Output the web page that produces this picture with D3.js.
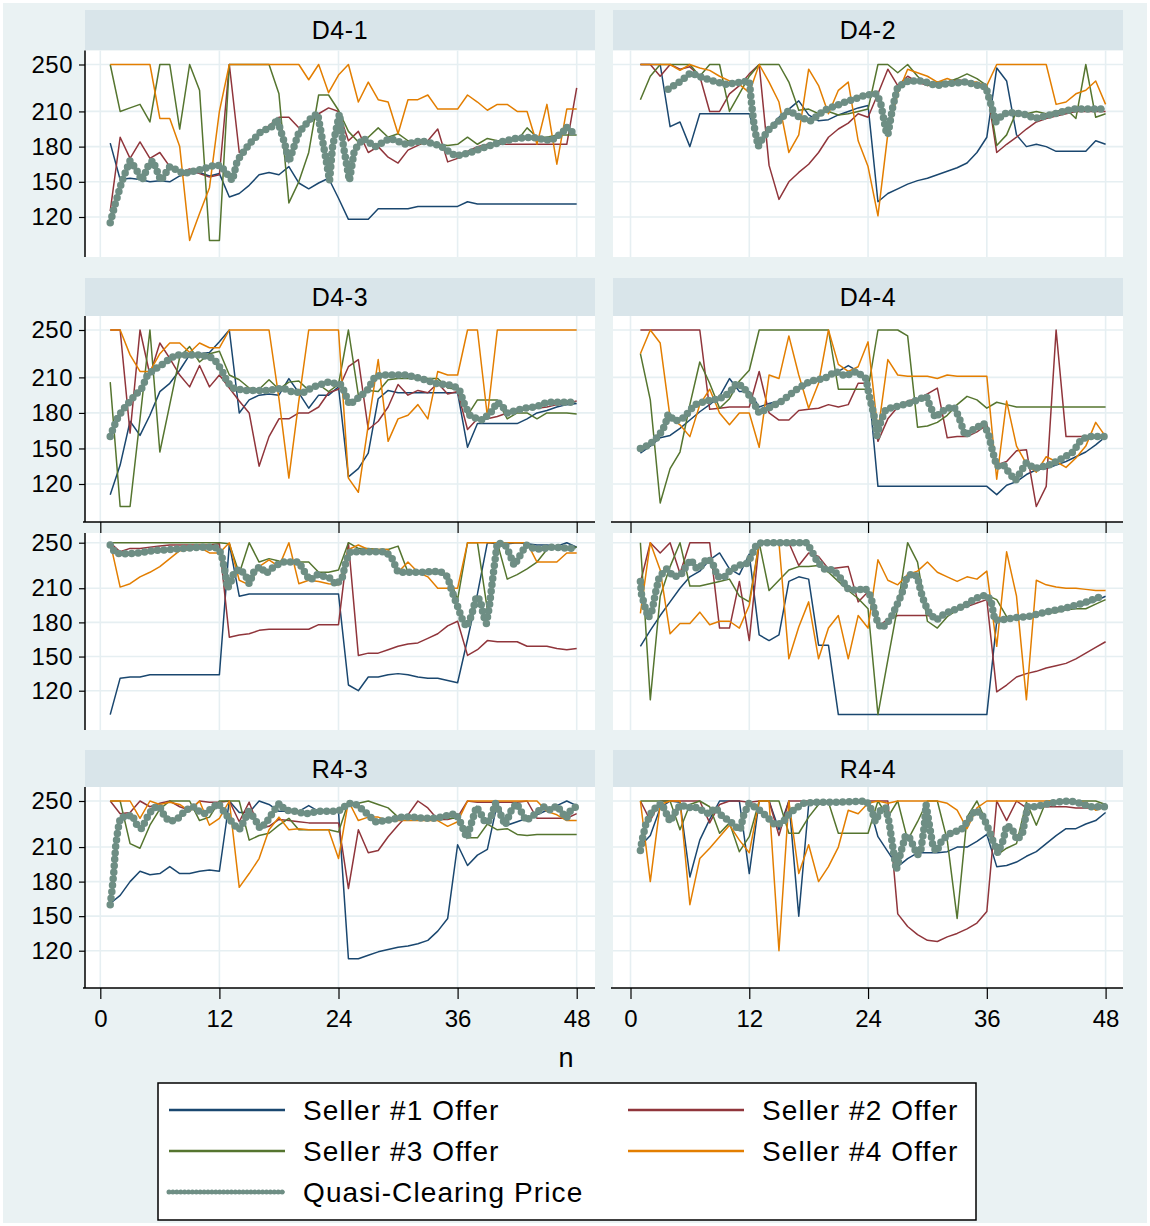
<!DOCTYPE html>
<html><head><meta charset="utf-8">
<script src="https://cdn.jsdelivr.net/npm/d3@7"></script>
<style>
body{margin:0;background:#fff}
svg{display:block}
text{font-family:"Liberation Sans",Arial,Helvetica,sans-serif;fill:#000}
</style>
</head><body>
<svg id="chart" width="1150" height="1226"></svg>
<script>
// ---------------- DATA ----------------
const periods = [1,2,3,4,5,6,7,8,9,10,11,12,13,14,15,16,17,18,19,20,21,22,23,24,25,26,27,28,29,30,31,32,33,34,35,36,37,38,39,40,41,42,43,44,45,46,47,48];
const yTicks = [120,150,180,210,250];
const xTicks = [0,12,24,36,48];
const seriesNames = ["Seller #1 Offer","Seller #2 Offer","Seller #3 Offer","Seller #4 Offer","Quasi-Clearing Price"];
const panelTitles = ["D4-1","D4-2","D4-3","D4-4","","","R4-3","R4-4"];
const xTitle = "n";

// D4-1
const d41_s1 = [183,152,153,152,150,151,150,155,157,158,155,157,137,140,147,156,158,156,163,149,144,149,153,136,118,118,118,127,127,127,127,129,129,129,129,129,133,131,131,131,131,131,131,131,131,131,131,131];
const d41_s2 = [125,188,170,184,170,175,163,158,161,157,154,156,250,175,180,190,198,205,205,196,200,208,213,210,185,193,175,180,171,166,177,181,185,195,167,170,176,180,182,182,182,182,182,182,182,182,182,230];
const d41_s3 = [250,210,213,216,201,250,250,195,250,228,100,100,250,250,250,250,250,225,132,150,175,224,224,211,193,184,188,196,188,191,185,182,184,182,181,182,188,182,187,185,185,185,196,188,188,190,190,190];
const d41_s4 = [250,250,250,250,250,204,204,180,100,123,145,210,250,250,250,250,250,250,250,250,237,250,226,241,250,218,235,220,218,191,220,220,224,212,212,212,224,218,211,216,216,210,210,182,216,165,212,212];
const d41_price = [[1,115],[1.5,131],[2.2,151],[3,168],[3.6,161],[4.2,151],[4.9,165],[5.3,168],[6.1,151],[7,163],[8.4,157],[9.9,160],[11.5,164],[12.1,164],[13.3,151],[13.8,168],[15,182],[16.1,192],[17.5,198],[17.8,204],[18.6,182],[19,167],[20,192],[21.3,205],[21.9,208],[22.7,171],[23.1,151],[23.4,180],[24.1,208],[24.5,180],[25.1,151],[25.6,177],[26.5,187],[27.7,180],[29.2,187],[30.8,182],[32.3,185],[34.2,181],[35.8,172],[37.3,175],[38.9,180],[40.4,184],[41.9,187],[43.5,188],[45.4,185],[46.6,192],[46.9,197],[47.9,190]];

// D4-2
const d42_s1 = [250,250,250,197,201,180,208,208,208,208,208,208,180,195,205,212,219,207,202,203,207,210,213,215,133,140,144,148,151,153,156,159,162,166,175,188,247,236,190,180,182,180,176,176,176,176,185,182];
const d42_s2 = [250,250,240,250,246,248,240,210,210,225,232,242,250,164,135,150,158,165,175,188,195,200,208,205,225,246,232,240,235,232,233,235,237,236,233,230,175,182,188,195,201,204,206,208,210,210,210,210];
const d42_s3 = [220,240,250,250,250,250,240,250,250,210,225,240,250,250,250,235,211,212,208,210,207,208,210,212,250,250,243,250,240,232,235,235,238,242,238,232,181,190,210,208,210,208,210,212,204,250,205,208];
const d42_s4 = [250,250,250,250,245,250,247,245,240,236,233,226,250,235,218,175,190,246,232,208,228,235,185,163,121,191,225,246,243,240,235,238,235,235,235,232,250,250,250,250,250,250,216,218,225,228,236,216];
const d42_price = [[3.8,229],[5.1,236],[6.1,243],[7.2,239],[8.3,236],[9.7,233],[11.1,235],[12,236],[12.2,219],[12.5,197],[12.9,180],[13.2,185],[13.9,194],[15,202],[16,211],[17.1,205],[18.2,202],[19.6,211],[21.7,218],[23.8,224],[24.9,225],[25.3,216],[25.8,194],[26,190],[26.5,214],[27,231],[28.1,236],[29.5,236],[30.9,232],[32.3,234],[33.8,235],[35.2,232],[35.9,231],[36.2,222],[36.6,211],[36.9,201],[37.7,208],[38.7,209],[40.1,207],[40.8,204],[41.9,206],[43.3,209],[44.7,212],[47.9,212]];

// D4-3
const d43_s1 = [111,136,173,161,178,198,205,216,229,230,231,240,250,180,191,195,196,195,209,197,184,195,195,202,126,133,146,192,199,197,197,197,197,197,197,197,151,171,171,171,171,171,175,180,182,185,187,188];
const d43_s2 = [250,250,163,250,212,239,226,212,202,220,202,212,201,190,180,135,160,175,175,180,180,185,197,200,219,225,166,173,185,204,195,199,197,205,196,198,166,175,175,177,180,181,183,184,185,187,188,190];
const d43_s3 = [206,101,101,175,250,147,187,227,236,223,230,232,212,208,201,200,208,200,206,207,199,204,198,204,250,195,199,198,208,209,209,209,209,209,201,200,178,191,191,191,175,180,180,175,180,180,180,179];
const d43_s4 = [250,250,229,215,215,230,239,239,231,239,235,235,250,250,250,250,250,192,125,190,250,250,250,250,125,113,170,225,156,175,178,187,175,215,212,212,250,250,177,250,250,250,250,250,250,250,250,250];
const d43_price = [[1,160],[1.3,167],[1.7,175],[2.2,182],[2.8,188],[3.4,194],[4.2,201],[4.7,211],[5.3,216],[6.1,220],[6.9,225],[7.6,229],[8.4,229],[10,229],[11.1,227],[11.7,223],[12.3,215],[12.8,206],[13.4,201],[14.6,199],[16.9,199],[18.4,201],[19.2,198],[20.4,197],[21.5,202],[23,206],[24.2,204],[24.6,198],[25.1,187],[25.9,192],[26.9,199],[27.7,211],[28.5,212],[30.8,212],[32.3,209],[33.8,205],[35.6,203],[36.2,199],[36.7,187],[37.3,177],[38.5,174],[39.4,181],[40,189],[40.4,187],[41,180],[42.7,184],[43.9,185],[45,189],[47.9,189]];

// D4-4
const d44_s1 = [146,152,159,161,167,174,181,187,194,209,198,198,185,188,190,195,200,204,208,212,215,220,215,208,118,118,118,118,118,118,118,118,118,118,118,118,111,119,122,128,132,133,136,139,143,147,153,160];
const d44_s2 = [250,250,250,250,250,250,250,183,184,185,185,185,215,180,174,174,182,183,184,187,185,187,205,205,156,175,185,190,192,196,201,159,160,160,164,170,136,139,148,149,101,118,250,160,160,160,160,160];
const d44_s3 = [230,191,104,133,147,187,223,205,184,192,207,216,250,250,250,250,250,250,250,250,200,200,200,200,250,250,250,245,168,169,172,178,187,194,191,184,189,187,185,185,185,185,185,185,185,185,185,185];
const d44_s4 = [230,250,239,176,170,160,187,200,180,170,180,180,151,212,209,245,212,184,205,250,221,215,219,240,164,225,212,211,211,211,209,212,211,211,211,211,124,190,152,137,130,143,139,134,142,152,172,160];
const d44_price = [[1,150],[1.9,153],[2.9,161],[3.5,170],[3.8,179],[4.5,173],[5.4,176],[6.5,187],[7.6,190],[9,192],[10,197],[10.7,205],[11.4,202],[12.3,191],[13,180],[13.9,184],[15.3,190],[16.8,200],[18.2,207],[19.6,209],[20.7,215],[21.7,211],[22.8,215],[23.8,209],[24.1,195],[24.6,178],[24.9,161],[25.3,173],[25.8,183],[26.7,185],[28.1,188],[29.9,194],[30.2,187],[30.8,176],[31.3,180],[32,184],[32.7,185],[33.2,176],[33.8,161],[34.8,167],[35.7,171],[36.2,161],[36.6,147],[37,135],[37.7,136],[38.2,130],[38.9,123],[39.4,130],[40,138],[40.8,133],[42.3,136],[43.7,142],[44.7,147],[45.5,157],[46.2,160],[47.9,160]];

// R4-1 (untitled row)
const r41_s1 = [99,131,132,132,134,134,134,134,134,134,134,134,249,203,205,205,205,205,205,205,205,205,205,205,125,120,132,132,134,135,134,132,131,131,129,127,165,205,250,249,249,250,249,248,248,247,250,246];
const r41_s2 = [250,242,245,245,246,247,248,248,248,248,248,249,167,169,170,173,174,174,174,174,174,178,178,178,250,151,153,153,156,159,161,162,166,170,177,181,151,156,164,163,163,163,159,159,159,157,156,157];
const r41_s3 = [250,250,250,250,250,250,250,250,250,250,250,250,249,223,250,233,236,234,233,233,233,224,224,226,250,245,245,244,244,247,224,223,223,223,223,200,250,250,191,250,218,222,227,233,244,246,246,246];
const r41_s4 = [250,211,214,220,224,229,236,243,244,246,241,241,250,217,213,229,235,229,250,214,217,216,214,213,244,248,244,244,244,224,233,224,220,210,210,210,250,250,250,250,250,250,250,233,233,233,241,241];
const r41_price = [[1,248],[1.5,241],[2.2,240],[3.8,241],[5.3,243],[6.9,244],[8.4,245],[10,246],[11.5,246],[12,244],[12.3,236],[12.6,223],[12.8,210],[13.1,214],[13.4,222],[14,227],[14.6,222],[15,214],[15.5,225],[16.1,229],[16.7,223],[17.5,229],[18.4,233],[20,233],[20.6,224],[21.1,217],[21.9,222],[23.1,219],[23.8,213],[24.4,220],[24.8,235],[25.2,242],[26.1,242],[27.7,242],[28.8,242],[29.4,236],[30,224],[31.1,224],[32.3,224],[34.2,225],[35,220],[35.4,208],[36,194],[36.5,182],[36.9,176],[37.4,186],[37.9,203],[38.3,199],[38.6,186],[38.9,179],[39.2,194],[39.6,223],[40,250],[40.8,248],[41.2,241],[41.7,230],[42.3,239],[42.9,248],[43.9,244],[45.4,246],[47.9,245]];

// R4-2 (untitled row)
const r42_s1 = [159,173,186,198,210,220,225,235,241,227,222,240,169,164,169,216,220,218,160,160,99,99,99,99,99,99,99,99,99,99,99,99,99,99,99,99,181,183,184,185,187,189,190,192,194,196,199,203];
const r42_s2 = [215,250,241,250,223,250,250,250,175,175,216,164,250,250,250,250,230,241,238,227,228,229,198,207,176,183,186,186,186,186,184,188,191,194,197,200,119,125,132,135,137,140,142,144,148,153,158,163];
const r42_s3 = [250,112,203,229,250,212,212,214,216,218,203,198,250,208,217,226,229,229,230,224,216,208,201,192,99,147,194,250,233,181,175,185,191,197,200,204,200,185,184,185,186,188,189,191,192,192,196,200];
const r42_s4 = [188,250,226,170,179,179,189,178,181,181,175,195,250,250,250,148,176,198,148,175,186,148,186,175,235,217,213,222,225,233,224,220,216,220,218,225,159,242,203,112,217,213,211,210,210,209,208,208];
const r42_price = [[1,216],[1.1,205],[1.45,194],[1.8,184],[2.2,191],[2.5,205],[2.9,220],[3.65,227],[4.4,220],[5.1,222],[5.6,229],[6.1,235],[6.7,227],[7.2,230],[7.7,236],[8.25,233],[8.8,220],[9.5,220],[10,225],[10.9,230],[11.8,232],[12.2,238],[12.7,248],[13.2,250],[17.8,250],[18.35,242],[18.9,233],[19.6,227],[20.5,226],[21.4,217],[21.9,210],[22.8,208],[23.7,210],[24.2,204],[24.55,194],[24.9,182],[25.3,175],[25.8,178],[26.3,184],[26.85,194],[27.4,205],[27.9,219],[28.45,223],[29,220],[29.3,208],[29.7,197],[30.2,188],[30.9,182],[31.8,188],[32.7,191],[33.8,195],[34.8,201],[35.9,204],[36.4,200],[36.8,182],[37.3,182],[38.7,184],[40.1,185],[41.9,189],[43.7,192],[45.8,197],[47.6,203]];

// R4-3
const r43_s1 = [161,168,180,189,186,187,193,187,187,189,190,189,250,240,240,250,247,241,241,241,246,241,241,241,113,113,116,119,121,123,124,126,129,137,148,212,194,203,208,248,229,232,235,238,242,246,250,246];
const r43_s2 = [250,239,240,250,245,248,250,245,242,250,249,249,250,232,249,226,228,234,233,232,231,231,231,231,174,225,205,207,219,229,238,250,244,234,234,236,250,249,249,249,249,249,250,235,235,235,235,239];
const r43_s3 = [250,250,213,209,229,243,250,250,250,233,236,250,250,250,216,220,222,229,235,225,225,225,225,223,249,248,250,247,244,236,236,235,235,235,235,235,218,218,230,225,226,221,220,221,221,221,221,221];
const r43_s4 = [250,250,250,235,250,247,249,247,241,250,229,235,250,175,187,200,225,236,225,226,225,225,225,200,250,233,236,236,233,233,233,233,233,233,228,232,250,250,250,250,250,250,250,250,241,238,233,233];
const r43_price = [[1,160],[1.16,171],[1.35,187],[1.54,210],[1.77,225],[2.04,236],[2.6,236],[3.2,238],[3.7,229],[4.16,226],[4.74,236],[5.32,244],[6,245],[6.5,236],[7.05,232],[7.83,235],[8.6,242],[9.37,245],[9.95,241],[10.5,239],[11.3,244],[11.87,248],[12.45,241],[12.95,235],[13.5,229],[14,225],[14.5,233],[14.96,241],[15.54,235],[16.1,226],[16.7,231],[17.46,241],[18.04,248],[18.62,242],[19.58,241],[20.74,239],[21.9,241],[23.44,241],[24.2,242],[24.98,248],[25.75,247],[26.5,242],[27.7,232],[28.84,233],[30.4,236],[31.5,236],[32.7,235],[33.85,235],[34.8,237],[35.8,239],[36.16,234],[36.55,226],[36.93,218],[37.4,231],[37.9,245],[38.4,238],[38.78,231],[39.24,233],[39.82,248],[40.2,241],[40.8,229],[41.36,241],[41.94,248],[42.33,242],[42.9,233],[43.7,238],[44.64,245],[45.4,242],[46,246],[46.95,235],[47.34,241],[47.92,245]];

// R4-4
const r44_s1 = [211,220,244,250,249,184,216,234,250,250,250,187,250,250,225,250,150,247,249,250,250,250,250,250,219,206,193,200,205,205,205,206,210,210,215,221,193,194,197,202,206,213,220,226,226,230,233,240];
const r44_s2 = [250,233,250,250,250,250,250,231,247,250,250,249,250,250,220,250,250,250,250,250,250,250,250,250,250,250,152,141,134,129,128,132,135,139,144,154,250,233,250,244,245,245,245,245,244,244,244,247];
const r44_s3 = [250,250,250,250,225,247,250,245,222,231,206,219,250,250,250,222,222,236,247,249,222,222,222,222,250,236,250,216,232,250,250,216,148,236,250,231,203,209,213,249,229,250,250,250,250,250,250,247];
const r44_s4 = [250,180,247,250,250,160,200,209,219,229,216,205,250,250,120,250,187,212,180,193,210,242,239,248,250,248,250,250,250,250,250,248,242,226,244,250,250,250,250,250,250,250,250,249,249,249,242,245];
const r44_price = [[1,207],[1.17,216],[1.52,229],[2.05,239],[2.6,245],[3.12,248],[3.47,242],[4,232],[4.43,239],[5.07,247],[5.77,244],[6.48,245],[7.19,242],[7.9,239],[8.61,244],[9.32,236],[10.02,233],[10.56,228],[11.09,225],[11.44,238],[11.97,248],[12.5,245],[13.21,241],[13.92,235],[14.63,229],[15.34,231],[16.05,239],[16.76,244],[17.46,248],[18.88,249],[21,249],[23.84,250],[24.37,242],[24.73,232],[25.26,242],[25.79,244],[26.14,231],[26.5,210],[26.85,190],[27.21,202],[27.74,219],[28.09,220],[28.62,210],[28.98,203],[29.33,207],[29.68,228],[29.86,247],[30.22,228],[30.57,210],[30.93,206],[31.46,216],[32.34,222],[33.4,225],[33.94,231],[34.82,242],[35.53,238],[36.06,228],[36.59,216],[37.12,205],[37.66,216],[38,229],[38.54,226],[39.07,216],[39.6,222],[40.13,245],[40.84,245],[41.9,247],[42.97,249],[44.39,250],[45.45,248],[46.51,245],[47.93,245]];

const panelData = [
  {sellers:[d41_s1,d41_s2,d41_s3,d41_s4], price:d41_price},
  {sellers:[d42_s1,d42_s2,d42_s3,d42_s4], price:d42_price},
  {sellers:[d43_s1,d43_s2,d43_s3,d43_s4], price:d43_price},
  {sellers:[d44_s1,d44_s2,d44_s3,d44_s4], price:d44_price},
  {sellers:[r41_s1,r41_s2,r41_s3,r41_s4], price:r41_price},
  {sellers:[r42_s1,r42_s2,r42_s3,r42_s4], price:r42_price},
  {sellers:[r43_s1,r43_s2,r43_s3,r43_s4], price:r43_price},
  {sellers:[r44_s1,r44_s2,r44_s3,r44_s4], price:r44_price}
];

// ---------------- LAYOUT / STYLE ----------------
const colors = ["#1a476f","#90353b","#55752f","#e37e00","#6e8e84"];
const bgColor = "#eaf2f3", stripColor = "#d9e5ea", gridColor = "#e6eff2";
const cols = [
  {x0:85, x1:595, r0:100.3, r48:576.7, yLabels:true},
  {x0:613, x1:1123, r0:630.5, r48:1105.6, yLabels:false}
];
const rows = [
  {hTop:10,  hBot:50.5, pTop:50.5, pBot:257, y250:64.5,  y120:217,   axis:false, labels:false},
  {hTop:278, hBot:316,  pTop:316,  pBot:522, y250:330,   y120:484,   axis:true,  labels:false},
  {hTop:null,hBot:null, pTop:533,  pBot:730, y250:542.7, y120:690.7, axis:false, labels:false},
  {hTop:750, hBot:787,  pTop:787,  pBot:988, y250:801,   y120:950.7, axis:true,  labels:true}
];

const svg = d3.select("#chart");
svg.append("rect").attr("x",3).attr("y",3).attr("width",1144).attr("height",1220).attr("fill",bgColor);

panelData.forEach((pd, i) => {
  const c = cols[i % 2], r = rows[Math.floor(i / 2)];
  const x = d3.scaleLinear().domain([0, 48]).range([c.r0, c.r48]);
  const y = d3.scaleLinear().domain([120, 250]).range([r.y120, r.y250]);
  const g = svg.append("g");

  if (r.hTop !== null) {
    g.append("rect").attr("x", c.x0).attr("y", r.hTop).attr("width", c.x1 - c.x0).attr("height", r.hBot - r.hTop).attr("fill", stripColor);
    g.append("text").attr("x", (c.x0 + c.x1) / 2).attr("y", (r.hTop + r.hBot) / 2 + 9)
      .attr("text-anchor", "middle").attr("font-size", 25).attr("letter-spacing", 0.6).text(panelTitles[i]);
  }
  g.append("rect").attr("x", c.x0).attr("y", r.pTop).attr("width", c.x1 - c.x0).attr("height", r.pBot - r.pTop).attr("fill", "#fff");

  // grid
  g.selectAll(".hg").data(yTicks).enter().append("line")
    .attr("x1", c.x0).attr("x2", c.x1).attr("y1", d => y(d)).attr("y2", d => y(d))
    .attr("stroke", gridColor).attr("stroke-width", 1.6);
  g.selectAll(".vg").data(xTicks).enter().append("line")
    .attr("y1", r.pTop).attr("y2", r.pBot).attr("x1", d => x(d)).attr("x2", d => x(d))
    .attr("stroke", gridColor).attr("stroke-width", 1.6);

  // y axis
  if (c.yLabels) {
    g.append("line").attr("x1", c.x0).attr("x2", c.x0).attr("y1", r.pTop).attr("y2", r.pBot)
      .attr("stroke", "#000").attr("stroke-width", 1.5);
    const ya = g.append("g").attr("transform", `translate(${c.x0},0)`)
      .call(d3.axisLeft(y).tickValues(yTicks).tickSize(6).tickPadding(6).tickFormat(d3.format("d")));
    ya.select(".domain").remove();
    ya.selectAll(".tick line").attr("stroke", "#000").attr("stroke-width", 1.2);
    ya.selectAll(".tick text").attr("font-size", 24).attr("letter-spacing", 0.5).attr("font-family", '"Liberation Sans",Arial,sans-serif').attr("fill", "#000");
  }
  // x axis
  if (r.axis) {
    g.append("line").attr("x1", c.x0 - 2).attr("x2", c.x1).attr("y1", r.pBot).attr("y2", r.pBot)
      .attr("stroke", "#000").attr("stroke-width", 1.5);
    const xa = g.append("g").attr("transform", `translate(0,${r.pBot})`)
      .call(d3.axisBottom(x).tickValues(xTicks).tickSize(11).tickPadding(11).tickFormat(d3.format("d")));
    xa.select(".domain").remove();
    xa.selectAll(".tick line").attr("stroke", "#000").attr("stroke-width", 1.2);
    if (r.labels) {
      xa.selectAll(".tick text").attr("font-size", 24).attr("font-family", '"Liberation Sans",Arial,sans-serif').attr("fill", "#000");
    } else {
      xa.selectAll(".tick text").remove();
    }
  }

  // seller lines
  const line = d3.line().x((d, k) => x(periods[k])).y(d => y(d));
  pd.sellers.forEach((s, k) => {
    g.append("path").datum(s).attr("d", line).attr("fill", "none")
      .attr("stroke", colors[k]).attr("stroke-width", 1.5).attr("stroke-linejoin", "round");
  });
  // price
  const pline = d3.line().x(d => x(d[0])).y(d => y(d[1]));
  g.append("path").datum(pd.price).attr("d", pline).attr("fill", "none")
    .attr("stroke", colors[4]).attr("stroke-width", 1.5);
  g.append("path").datum(pd.price).attr("d", pline).attr("fill", "none")
    .attr("stroke", colors[4]).attr("stroke-width", 7.5).attr("stroke-linecap", "round")
    .attr("stroke-dasharray", "0 6.5");
});

// x axis title
svg.append("text").attr("x", 566).attr("y", 1067).attr("text-anchor", "middle").attr("font-size", 27).text(xTitle);

// legend
const lg = svg.append("g");
lg.append("rect").attr("x", 158).attr("y", 1083).attr("width", 818).attr("height", 137)
  .attr("fill", "#fff").attr("stroke", "#000").attr("stroke-width", 1.5);
const legendPos = [
  {lx:169, tx:303, y:1110}, {lx:628, tx:762, y:1110},
  {lx:169, tx:303, y:1151}, {lx:628, tx:762, y:1151},
  {lx:169, tx:303, y:1192}
];
seriesNames.forEach((name, k) => {
  const p = legendPos[k];
  const seg = lg.append("line").attr("x1", p.lx).attr("x2", p.lx + 116).attr("y1", p.y).attr("y2", p.y)
    .attr("stroke", colors[k]);
  if (k < 4) seg.attr("stroke-width", 2.5);
  else {
    lg.append("line").attr("x1", p.lx).attr("x2", p.lx + 116).attr("y1", p.y).attr("y2", p.y)
      .attr("stroke", colors[k]).attr("stroke-width", 1.2);
    seg.attr("stroke-width", 5).attr("stroke-linecap", "round").attr("stroke-dasharray", "0 3.9");
  }
  lg.append("text").attr("x", p.tx).attr("y", p.y + 10).attr("font-size", 28).attr("letter-spacing", 1.1).text(name);
});
</script>
</body></html>
